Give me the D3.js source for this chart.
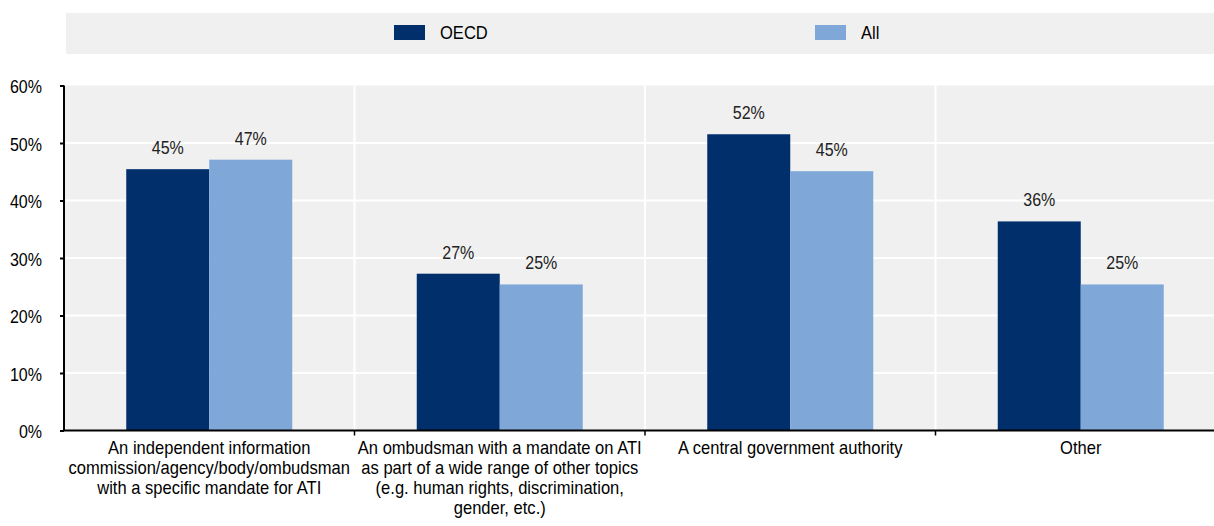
<!DOCTYPE html>
<html>
<head>
<meta charset="utf-8">
<script src="https://cdn.jsdelivr.net/npm/d3@7"></script>
<style>
  html, body { margin: 0; padding: 0; background: #fff; }
  svg text { font-family: "Liberation Sans", Arial, sans-serif; fill: #000; }
</style>
</head>
<body>
<svg id="chart" width="1214" height="526"></svg>
<script>
// Bodies responsible for overseeing access to information (ATI)
const categories = [
  "An independent information commission/agency/body/ombudsman with a specific mandate for ATI",
  "An ombudsman with a mandate on ATI as part of a wide range of other topics (e.g. human rights, discrimination, gender, etc.)",
  "A central government authority",
  "Other"
];
const categoryLines = [
  ["An independent information", "commission/agency/body/ombudsman", "with a specific mandate for ATI"],
  ["An ombudsman with a mandate on ATI", "as part of a wide range of other topics", "(e.g. human rights, discrimination,", "gender, etc.)"],
  ["A central government authority"],
  ["Other"]
];
const seriesNames = ["OECD", "All"];
const oecdValues = [45.45, 27.27, 51.52, 36.36];
const allValues = [47.1, 25.4, 45.1, 25.4];
const yTicks = [0, 10, 20, 30, 40, 50, 60];

const colors = { OECD: "#002f6c", All: "#7fa8d9" };
const bg = "#f0f0f0";

const svg = d3.select("#chart");
const W = 1214;
const plot = { left: 64, top: 85.5, bottom: 430.5, right: 1226 };

// Place a text element at (x, y) and squeeze it horizontally around its anchor
// to get condensed lettering from the regular sans face
function narrow(sel, k) {
  sel.each(function() {
    const t = d3.select(this);
    const x = +t.attr("x") || 0, y = +t.attr("y") || 0;
    t.attr("x", 0).attr("y", 0).attr("transform", `translate(${x},${y}) scale(${k},1)`);
  });
}
const WORDS = 0.92, NUMS = 0.89;

const x0 = d3.scaleBand().domain(categories).range([plot.left, plot.right]).padding(0);
const x1 = d3.scaleBand().domain(seriesNames).range([0, x0.bandwidth()]).paddingInner(0).paddingOuter(0.75);
const y = d3.scaleLinear().domain([0, 60]).range([plot.bottom, plot.top]);

// Legend strip
svg.append("rect").attr("x", 66).attr("y", 13).attr("width", W - 66).attr("height", 41).attr("fill", bg);
const legendPos = { OECD: 394, All: 815 };
seriesNames.forEach(s => {
  const g = svg.append("g").attr("transform", `translate(${legendPos[s]},25)`);
  g.append("rect").attr("width", 31).attr("height", 15).attr("fill", colors[s]);
  g.append("text").attr("x", 46).attr("y", 14).attr("font-size", 18).text(s).call(narrow, WORDS);
});

// Plot background
svg.append("rect").attr("x", plot.left).attr("y", plot.top).attr("width", W - plot.left).attr("height", plot.bottom - plot.top).attr("fill", bg);

// Horizontal gridlines
svg.append("g").selectAll("line").data(yTicks.filter(d => d > 0 && d < 60)).join("line")
  .attr("x1", plot.left).attr("x2", W).attr("y1", d => y(d)).attr("y2", d => y(d))
  .attr("stroke", "#fff").attr("stroke-width", 2);

// Vertical separators between categories
const seps = categories.slice(1).map(c => x0(c));
svg.append("g").selectAll("line").data(seps).join("line")
  .attr("x1", d => d).attr("x2", d => d).attr("y1", plot.top).attr("y2", plot.bottom)
  .attr("stroke", "#fff").attr("stroke-width", 2);

// Bars
const rows = categories.map((c, i) => ({ cat: c, vals: [
  { s: "OECD", v: oecdValues[i] }, { s: "All", v: allValues[i] }
]}));
const fmt = v => Math.round(v) + "%";
const groups = svg.append("g").selectAll("g").data(rows).join("g")
  .attr("transform", d => `translate(${x0(d.cat)},0)`);
groups.selectAll("rect").data(d => d.vals).join("rect")
  .attr("x", d => x1(d.s)).attr("width", x1.bandwidth())
  .attr("y", d => y(d.v)).attr("height", d => y(0) - y(d.v))
  .attr("fill", d => colors[d.s]);
groups.selectAll("text").data(d => d.vals).join("text")
  .attr("x", d => x1(d.s) + x1.bandwidth() / 2).attr("y", d => y(d.v) - 15)
  .attr("text-anchor", "middle").attr("font-size", 18).style("fill", "#222")
  .text(d => fmt(d.v))
  .call(narrow, NUMS);

// Y axis
const yAxis = svg.append("g").attr("transform", `translate(${plot.left},0)`)
  .call(d3.axisLeft(y).tickValues(yTicks).tickFormat(d => d + "%").tickSize(4).tickPadding(18));
yAxis.select(".domain").attr("stroke", "#000").attr("stroke-width", 2).attr("d", `M0,${plot.top}V${plot.bottom}`);
yAxis.selectAll(".tick line").attr("stroke", "#000").attr("stroke-width", 2);
yAxis.selectAll(".tick text").attr("font-size", 18).attr("dy", "0.4em")
  .attr("font-family", null).call(narrow, NUMS);

// X axis line and separator ticks
svg.append("line").attr("x1", plot.left - 1).attr("x2", W).attr("y1", plot.bottom).attr("y2", plot.bottom)
  .attr("stroke", "#000").attr("stroke-width", 2);
svg.append("g").selectAll("line").data(seps).join("line")
  .attr("x1", d => d).attr("x2", d => d).attr("y1", plot.bottom).attr("y2", plot.bottom + 5)
  .attr("stroke", "#000").attr("stroke-width", 1.5);

// Category labels, one text element per line
const labelRows = categories.flatMap((c, i) => categoryLines[i].map((line, j) => ({ c, line, j })));
svg.append("g").selectAll("text").data(labelRows).join("text")
  .attr("x", d => x0(d.c) + x0.bandwidth() / 2).attr("y", d => 454 + d.j * 20)
  .attr("text-anchor", "middle").attr("font-size", 18)
  .text(d => d.line)
  .call(narrow, WORDS);
</script>
</body>
</html>
